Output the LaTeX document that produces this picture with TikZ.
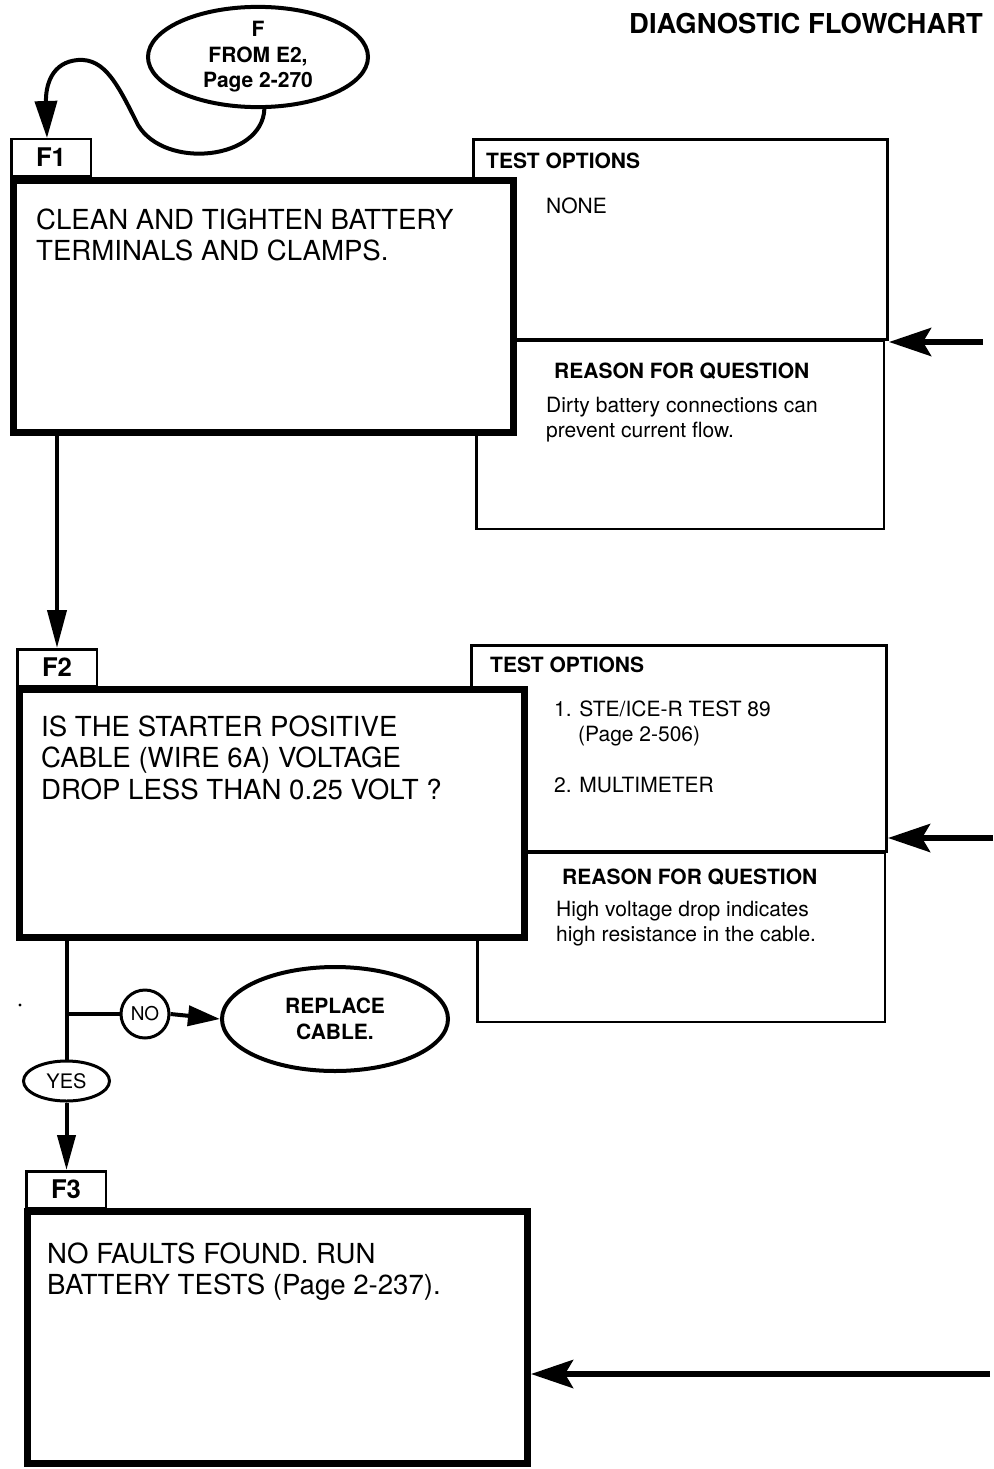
\documentclass[tikz,border=0pt]{standalone}
\usepackage{fontspec}
\setmainfont{TeX Gyre Heros}
\usetikzlibrary{arrows.meta,shapes.geometric,calc}

% type sizes
\newcommand\bigtxt{\fontsize{27.6}{31.8}\selectfont}
\newcommand\smalltxt{\fontsize{21}{25.5}\selectfont}
\newcommand\headtxt{\fontsize{21}{25.5}\selectfont\bfseries}
\newcommand\tagtxt{\fontsize{25.7}{30}\selectfont\bfseries}
\newcommand\titletxt{\fontsize{27.4}{30}\selectfont\bfseries}

\tikzset{
  stepbox/.style={draw, rectangle, line width=7pt, fill=white, inner sep=0pt, anchor=north west},
  tagbox/.style={draw, rectangle, line width=2.5pt, fill=white, inner sep=0pt, anchor=north west,
                 minimum width=79.5pt, minimum height=36.5pt, font=\tagtxt},
  optbox/.style={draw, rectangle, line width=3pt, inner sep=0pt, anchor=north west},
  whybox/.style={draw, rectangle, line width=2.5pt, inner sep=0pt, anchor=north west},
  txt/.style={anchor=base west, inner sep=0pt, align=left},
  oval/.style={draw, ellipse, line width=4pt, fill=white, inner sep=0pt, align=center, font=\headtxt},
  conn/.style={line width=4pt},
  downtip/.style={-{Triangle[length=38pt,width=19pt]}},
  sidetip/.style={line width=6pt, -{Stealth[length=42pt,width=28pt,inset=8pt]}},
}

\begin{document}
\begin{tikzpicture}[x=1pt,y=-1pt]
\useasboundingbox (0,0) rectangle (993,1469);
\fill[white] (0,0) rectangle (993,1469);

% heading
\node[anchor=base east, inner sep=0pt, font=\titletxt] (title) at (983,34) {DIAGNOSTIC FLOWCHART};

% ---------- step F1 ----------
\node[optbox, minimum width=414pt, minimum height=200pt] (t1) at (472,138) {};
\node[whybox, minimum width=407.5pt, minimum height=188.5pt] (r1) at (475,339) {};
\node[stepbox, minimum width=500pt, minimum height=252pt] (f1) at (10,177) {};
\node[tagbox] (f1lab) at (10,138) {F1};

% multi-line texts: the base anchor sits on the last line's baseline
\node[txt, font=\bigtxt] (f1q) at (36,260.8) {CLEAN AND TIGHTEN BATTERY\\TERMINALS AND CLAMPS.};
\node[txt, font=\headtxt] (t1h) at (486,168) {TEST OPTIONS};
\node[txt, font=\smalltxt] (t1a) at (546,213) {NONE};
\node[txt, font=\headtxt] (r1h) at (554,378) {REASON FOR QUESTION};
\node[txt, font=\smalltxt] (r1a) at (546,437.5) {Dirty battery connections can\\prevent current flow.};

% entry oval
\node[oval, minimum width=220pt, minimum height=98pt] (Fo) at (258,57) {F\\FROM E2,\\Page 2-270};
\coordinate (f1in) at ($(f1lab.north)+(-4,0)$);
\draw[conn, -{Triangle[length=37pt,width=22pt]}]
  (Fo.-83) .. controls (262,160) and (165,170) .. (138,125)
           .. controls (118,85) and (105,58) .. (78,60)
           .. controls (52,62) and (45.5,85) .. (f1in);

\coordinate (s1) at (983,342);
\draw[sidetip] (s1) -- (t1.east |- s1);

% ---------- step F2 ----------
\node[optbox, minimum width=415pt, minimum height=206pt] (t2) at (470,644) {};
\node[whybox, minimum width=407.5pt, minimum height=169.5pt] (r2) at (476,851) {};
\node[stepbox, minimum width=505pt, minimum height=248pt] (f2) at (16,686) {};
\node[tagbox] (f2lab) at (16,648) {F2};

\node[txt, font=\bigtxt] (f2q) at (41,799.6) {IS THE STARTER POSITIVE\\CABLE (WIRE 6A) VOLTAGE\\DROP LESS THAN 0.25 VOLT ?};
\node[txt, font=\headtxt] (t2h) at (490,672) {TEST OPTIONS};
\node[txt, font=\smalltxt] (t2a) at (554,716) {1. STE/ICE-R TEST 89};
\node[txt, font=\smalltxt] (t2b) at (578,741) {(Page 2-506)};
\node[txt, font=\smalltxt] (t2c) at (554,792) {2. MULTIMETER};
\node[txt, font=\headtxt] (r2h) at (562,884) {REASON FOR QUESTION};
\node[txt, font=\smalltxt] (r2a) at (556,941.5) {High voltage drop indicates\\high resistance in the cable.};

\draw[conn, downtip] (f1.south -| f2lab.north) -- (f2lab.north);

\coordinate (s2) at (993,838);
\draw[sidetip] (s2) -- (t2.east |- s2);

% ---------- decision below F2 ----------
\node[draw, circle, line width=3pt, minimum size=48pt, inner sep=0pt, fill=white,
      font=\fontsize{19}{22}\selectfont] (no) at (145,1014) {NO};
\node[oval, minimum width=226pt, minimum height=104pt] (rep) at (335,1019) {REPLACE\\CABLE.};
\node[draw, ellipse, line width=3pt, minimum width=86pt, minimum height=40pt, inner sep=0pt, fill=white,
      font=\fontsize{20}{22}\selectfont] (yes) at (66.5,1081) {YES};

\coordinate (br) at (66.5,1014);
\draw[conn] (f2.south -| yes.north) -- (yes.north);
\draw[conn] (br) -- (no.west);
\draw[conn, -{Triangle[length=32pt,width=20pt]}] (no.east) -- (rep.west);

\fill (20,1005) circle (1.6);

% ---------- step F3 ----------
\node[stepbox, minimum width=500pt, minimum height=252pt] (f3) at (24,1208) {};
\node[tagbox] (f3lab) at (25,1170) {F3};
\node[txt, font=\bigtxt] (f3q) at (47,1294.8) {NO FAULTS FOUND. RUN\\BATTERY TESTS (Page 2-237).};

\draw[conn, -{Triangle[length=35pt,width=18pt]}] (yes.south) -- (yes.south |- f3lab.north);

\coordinate (s3) at (990,1374);
\draw[sidetip] (s3) -- (f3.east |- s3);

\end{tikzpicture}
\end{document}
